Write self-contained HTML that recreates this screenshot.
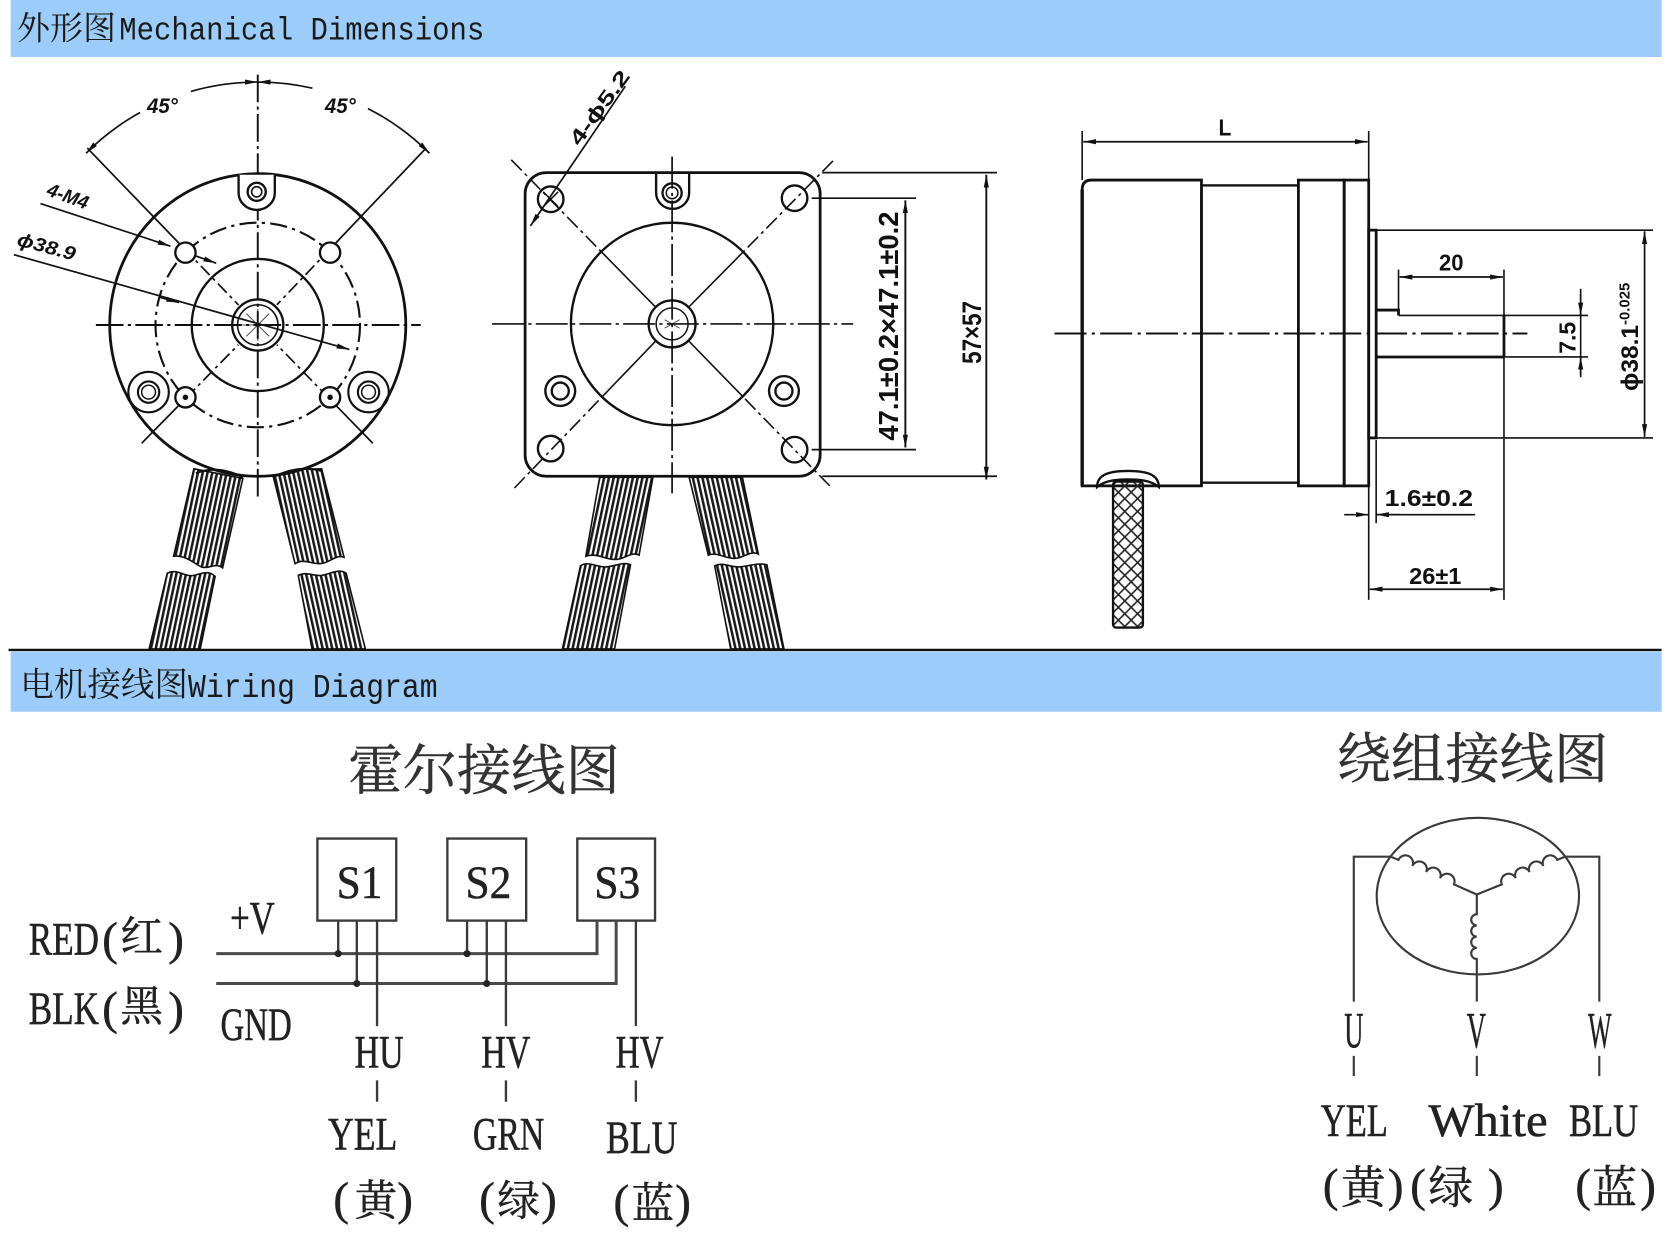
<!DOCTYPE html>
<html><head><meta charset="utf-8">
<style>
html,body{margin:0;padding:0;background:#fff;}
svg{display:block;}
</style></head>
<body>
<svg xmlns="http://www.w3.org/2000/svg" width="1668" height="1236" viewBox="0 0 1566 1160" preserveAspectRatio="none">
<defs>
 <marker id="ar" viewBox="0 0 12 6" refX="12" refY="3" markerWidth="12" markerHeight="6" orient="auto-start-reverse" markerUnits="userSpaceOnUse"><path d="M0,0.6 L12,3 L0,5.4z" fill="#111"/></marker>
 <pattern id="hL" width="4.4" height="20" patternUnits="userSpaceOnUse" patternTransform="rotate(12)"><rect width="2.4" height="20" fill="#1a1a1a"/></pattern>
 <pattern id="hR" width="4.4" height="20" patternUnits="userSpaceOnUse" patternTransform="rotate(-12.5)"><rect width="2.4" height="20" fill="#1a1a1a"/></pattern>
 <pattern id="xh" width="12" height="12" patternUnits="userSpaceOnUse"><path d="M0,0 L12,12 M12,0 L0,12" stroke="#222" stroke-width="1.5" fill="none"/></pattern>
</defs>
<rect x="0" y="0" width="1566" height="1160" fill="#fff"/>

<!-- Header 1 -->
<rect x="10" y="0" width="1550" height="53.5" fill="#9ccdfa"/>
<text x="16" y="37" font-family="'Noto Serif CJK SC','Noto Sans CJK SC',serif" font-size="31" fill="#1a1a1a">外形图</text>
<text transform="translate(112,37) scale(1,1.12)" font-family="'Liberation Mono',monospace" font-size="27.2" fill="#1a1a1a">Mechanical Dimensions</text>

<!-- Header 2 -->
<line x1="8" y1="610" x2="1560" y2="610" stroke="#111" stroke-width="2.2"/>
<rect x="10" y="611.5" width="1550" height="56.5" fill="#9ccdfa"/>
<text x="19" y="653" font-family="'Noto Serif CJK SC','Noto Sans CJK SC',serif" font-size="31.5" fill="#1a1a1a">电机接线图</text>
<text transform="translate(176.5,654) scale(1,1.12)" font-family="'Liberation Mono',monospace" font-size="27.9" fill="#1a1a1a">Wiring Diagram</text>

<!-- ============ LEFT VIEW ============ -->
<g stroke="#111" fill="none" stroke-width="2.2">
 <path d="M182,440 L228,449 L209,533 C201,527 195,536 187,531 C179,526 172,521 163,522 Z" fill="url(#hL)" stroke-width="1.5"/>
 <path d="M157,538 C166,533 174,542 182,540 C190,538 196,535 202,541 L188,609 L140,609 Z" fill="url(#hL)" stroke-width="1.5"/>
 <path d="M255,441 L302,440 L323,523 C315,520 309,529 300,529 C291,529 285,524 277,529 Z" fill="url(#hR)" stroke-width="1.5"/>
 <path d="M280,540 C288,536 294,541 302,540 C310,539 318,533 325,538 L343,609 L293,609 Z" fill="url(#hR)" stroke-width="1.5"/>

 <ellipse cx="242" cy="305" rx="139" ry="142" stroke-width="2.6" fill="#fff"/>
 <path d="M184,444 Q205,436 228,448 M256,448 Q280,436 302,442" stroke-width="2"/>
 <circle cx="242" cy="305" r="62"/>
 <circle cx="242" cy="305" r="96" stroke-dasharray="16 5 3 5" stroke-width="2"/>
 <circle cx="242" cy="305" r="24"/>
 <circle cx="242" cy="305" r="19" stroke-width="1.5"/>
 <path d="M242,290 V320 M227,305 H257 M231.4,294.4 L252.6,315.6 M252.6,294.4 L231.4,315.6" stroke-width="1" stroke="#555"/>
 <path d="M90,305 H395" stroke-dasharray="26 4 3 4" stroke-width="1.8"/>
 <path d="M242,70 V466" stroke-dasharray="26 4 3 4" stroke-width="1.8"/>
 <path d="M82,139 L172.6,233 M400,139 L311,232.5 M133,416 L174.8,373.4 M350,416 L308.9,373.8" stroke-width="1.6"/>
 <path d="M172.6,233 L224,286.3 M311,232.5 L260,286 M174.8,373.4 L223.8,323.5 M308.9,373.8 L260,323.6" stroke-width="1.6" stroke-dasharray="12 4 3 4"/>
 <circle cx="174.1" cy="237.1" r="9.5" fill="#fff"/>
 <circle cx="309.9" cy="237.1" r="9.5" fill="#fff"/>
 <circle cx="174.1" cy="372.9" r="9.5" fill="#fff"/>
 <circle cx="309.9" cy="372.9" r="9.5" fill="#fff"/>
 <circle cx="174.1" cy="372.9" r="1.5" fill="#111"/>
 <circle cx="309.9" cy="372.9" r="1.5" fill="#111"/>
 <path d="M224,164 V181 A17,16 0 0 0 258,181 V164" fill="#fff"/>
 <circle cx="241" cy="180" r="8.5"/>
 <circle cx="241" cy="180" r="4.8" stroke-width="1.5"/>
 <circle cx="139.5" cy="368" r="19" stroke-width="2"/>
 <circle cx="139.5" cy="368" r="10" stroke-width="2"/>
 <circle cx="139.5" cy="368" r="6.5" stroke-width="1.4"/>
 <circle cx="346" cy="368" r="19" stroke-width="2"/>
 <circle cx="346" cy="368" r="10" stroke-width="2"/>
 <circle cx="346" cy="368" r="6.5" stroke-width="1.4"/>
 <path d="M80.8,143.8 A228,228 0 0 1 131.5,105.6" stroke-width="1.6" marker-start="url(#ar)"/>
 <path d="M179.2,85.8 A228,228 0 0 1 242,77" stroke-width="1.6" marker-end="url(#ar)"/>
 <path d="M242,77 A228,228 0 0 1 293.3,82.8" stroke-width="1.6" marker-start="url(#ar)"/>
 <path d="M345.5,101.9 A228,228 0 0 1 403.2,143.8" stroke-width="1.6" marker-end="url(#ar)"/>
 <path d="M38,191 L160,231" stroke-width="1.6" marker-end="url(#ar)"/>
 <path d="M183,240 L203,247" stroke-width="1.6" marker-end="url(#ar)"/>
 <path d="M13,239 L328,328" stroke-width="1.6" marker-end="url(#ar)"/>
 <path d="M150,279 L168,284" stroke-width="1.6" marker-end="url(#ar)"/>
</g>
<g font-family="'Liberation Sans',sans-serif" font-weight="bold" font-style="italic" fill="#111">
 <text x="138" y="106" font-size="20" textLength="29" lengthAdjust="spacingAndGlyphs">45°</text>
 <text x="305" y="106" font-size="20" textLength="29" lengthAdjust="spacingAndGlyphs">45°</text>
 <text transform="translate(43,183) rotate(20)" font-size="18" textLength="40" lengthAdjust="spacingAndGlyphs">4-M4</text>
 <text transform="translate(15,230) rotate(15)" font-size="18" textLength="56" lengthAdjust="spacingAndGlyphs">ϕ38.9</text>
</g>

<!-- ============ MIDDLE VIEW ============ -->
<g stroke="#111" fill="none" stroke-width="2.2">
 <path d="M563,448 L613,448 L600,521 C592,517 586,526 576,525 C566,524 560,519 550,522 Z" fill="url(#hL)" stroke-width="1.5"/>
 <path d="M545,531 C553,526 561,533 570,532 C579,531 585,527 592,530 L577,609 L528,609 Z" fill="url(#hL)" stroke-width="1.5"/>
 <path d="M647,448 L697,448 L712,520 C704,516 697,525 688,524 C679,523 672,518 665,521 Z" fill="url(#hR)" stroke-width="1.5"/>
 <path d="M671,531 C679,527 686,533 695,532 C704,531 712,528 720,530 L736,609 L686,609 Z" fill="url(#hR)" stroke-width="1.5"/>

 <rect x="493" y="162" width="277" height="285" rx="20" stroke-width="2.6" fill="#fff"/>
 <circle cx="631" cy="304" r="95"/>
 <circle cx="631" cy="304" r="22"/>
 <circle cx="631" cy="304" r="15" stroke-width="1.4"/>
 <path d="M624,300 L638,308 M624,308 L638,300" stroke-width="1" stroke="#555"/>
 <path d="M462,304 H801" stroke-dasharray="30 4 3 4" stroke-width="1.6"/>
 <path d="M631,147 V463" stroke-dasharray="30 4 3 4" stroke-width="1.6"/>
 <path d="M480,150 L564.5,236.2 M782,151 L697.8,236.4 M483,458 L565.2,372.5 M779,456 L697.3,372.1" stroke-dasharray="14 4 3 4" stroke-width="1.5"/>
 <path d="M564.5,236.2 L615.6,288.3 M697.8,236.4 L646.5,288.3 M565.2,372.5 L615.8,319.9 M697.3,372.1 L646.4,319.8" stroke-width="1.5"/>
 <circle cx="517" cy="187" r="12"/>
 <path d="M510,180 L524,194 M524,180 L510,194" stroke-width="1.4"/>
 <circle cx="746" cy="186" r="12"/>
 <circle cx="517" cy="421" r="12"/>
 <circle cx="746" cy="422" r="12"/>
 <circle cx="526" cy="367" r="14"/>
 <circle cx="526" cy="367" r="8"/>
 <circle cx="736" cy="367" r="14"/>
 <circle cx="736" cy="367" r="8"/>
 <path d="M616,162 V181 A15.5,15 0 0 0 647,181 V162"/>
 <circle cx="631" cy="181" r="9"/>
 <circle cx="631" cy="181" r="5.5" stroke-width="1.4"/>
 <path d="M587,81 L498,212" stroke-width="1.6" marker-end="url(#ar)"/>
 <path d="M772,162 H936 M772,447 H936" stroke-width="1.6"/>
 <path d="M926,164 V450" stroke-width="1.8" marker-start="url(#ar)" marker-end="url(#ar)"/>
 <path d="M762,186 H860 M762,422 H860" stroke-width="1.6"/>
 <path d="M850,188 V420" stroke-width="1.8" marker-start="url(#ar)" marker-end="url(#ar)"/>
</g>
<g font-family="'Liberation Sans',sans-serif" font-weight="bold" fill="#111">
 <text transform="translate(544,138) rotate(-54)" font-size="19" textLength="82" lengthAdjust="spacingAndGlyphs">4-ϕ5.2</text>
 <text transform="translate(843,306) rotate(-90)" text-anchor="middle" font-size="26" textLength="215" lengthAdjust="spacingAndGlyphs">47.1±0.2×47.1±0.2</text>
 <text transform="translate(921,312) rotate(-90)" text-anchor="middle" font-size="25" textLength="59" lengthAdjust="spacingAndGlyphs">57×57</text>
</g>

<!-- ============ RIGHT VIEW ============ -->
<g stroke="#111" fill="none" stroke-width="2.2">
 <path d="M1016,178 Q1016,169 1025,169 H1128 V456 H1016 Z" stroke-width="2.6"/>
 <path d="M1016,178 V456" stroke-width="3.2"/>
 <rect x="1128" y="174" width="91" height="279"/>
 <rect x="1219" y="169" width="43" height="287" stroke-width="2.6"/>
 <rect x="1262" y="169" width="23" height="287" stroke-width="2.6"/>
 <rect x="1285" y="216" width="7" height="195" stroke-width="2.6"/>
 <path d="M1292,291 H1313 V296 M1412,296 V335 M1292,335 H1412" stroke-width="2.6"/>
 <path d="M1313,296 H1412" stroke-width="1.5"/>
 <path d="M990,313 H1434" stroke-dasharray="30 5 3 5" stroke-width="1.8"/>
 <path d="M1292,216 H1552 M1292,411 H1552" stroke-width="1.5"/>
 <path d="M1544,217 V410" stroke-width="1.6" marker-start="url(#ar)" marker-end="url(#ar)"/>
 <path d="M1412,296 H1491 M1412,335 H1491" stroke-width="1.5"/>
 <path d="M1484,271 V354" stroke-width="1.5"/>
 <path d="M1484,276 V296" stroke-width="1.5" marker-end="url(#ar)"/>
 <path d="M1484,352 V335" stroke-width="1.5" marker-end="url(#ar)"/>
 <path d="M1313,253 V291 M1412,253 V296" stroke-width="1.5"/>
 <path d="M1314,260 H1411" stroke-width="1.6" marker-start="url(#ar)" marker-end="url(#ar)"/>
 <path d="M1016,123 V169 M1285,123 V169" stroke-width="1.5"/>
 <path d="M1017,133 H1284" stroke-width="1.6" marker-start="url(#ar)" marker-end="url(#ar)"/>
 <path d="M1292,413 V491" stroke-width="1.5"/>
 <path d="M1292,483 H1385" stroke-width="1.5"/>
 <path d="M1262,483 L1285,483" stroke-width="1.5" marker-end="url(#ar)"/>
 <path d="M1315,483 L1292,483" stroke-width="1.5" marker-end="url(#ar)"/>
 <path d="M1285,411 V563 M1412,335 V563" stroke-width="1.5"/>
 <path d="M1286,553 H1411" stroke-width="1.6" marker-start="url(#ar)" marker-end="url(#ar)"/>
 <rect x="1045" y="452" width="28" height="137" rx="3" fill="url(#xh)" stroke-width="2.2"/>
 <path d="M1030,457 C1030,446 1040,442 1059,442 C1078,442 1088,446 1088,457 C1082,452 1074,450 1059,450 C1044,450 1036,452 1030,457 Z" fill="#fff" stroke-width="2.2"/>
</g>
<g font-family="'Liberation Sans',sans-serif" font-weight="bold" fill="#111">
 <text x="1144" y="127" font-size="22" textLength="12" lengthAdjust="spacingAndGlyphs">L</text>
 <text x="1351" y="254" font-size="22" textLength="23" lengthAdjust="spacingAndGlyphs">20</text>
 <text transform="translate(1479,317) rotate(-90)" text-anchor="middle" font-size="22" textLength="30" lengthAdjust="spacingAndGlyphs">7.5</text>
 <text transform="translate(1538,367) rotate(-90)" font-size="23">ϕ38.1<tspan font-size="14" dy="-8">-0.025</tspan></text>
 <text x="1300" y="475" font-size="22" textLength="83" lengthAdjust="spacingAndGlyphs">1.6±0.2</text>
 <text x="1323" y="548" font-size="22" textLength="49" lengthAdjust="spacingAndGlyphs">26±1</text>
</g>

<!-- ============ HALL WIRING ============ -->
<text x="327" y="741" font-family="'Noto Serif CJK SC','Noto Sans CJK SC',serif" font-size="51" fill="#333" stroke="#333" stroke-width="0.4">霍尔接线图</text>
<g stroke="#3a3a3a" fill="none" stroke-width="2.2">
 <rect x="298" y="787" width="74" height="77"/>
 <rect x="420" y="787" width="74" height="77"/>
 <rect x="542" y="787" width="73" height="77"/>
 <path d="M203,895 H560.5 V864" stroke-width="2.8" stroke="#4a4a4a"/>
 <path d="M203,923 H578.5 V864" stroke-width="2.8" stroke="#4a4a4a"/>
 <path d="M317.5,864 V895 M335,864 V923 M354,864 V963 M438.5,864 V895 M457,864 V923 M475,864 V963 M597,864 V963"/>
 <path d="M354,1014 V1034 M475,1014 V1034 M597,1014 V1034"/>
</g>
<g fill="#222">
 <circle cx="317.5" cy="895" r="3.3"/><circle cx="438.5" cy="895" r="3.3"/>
 <circle cx="335" cy="923" r="3.3"/><circle cx="457" cy="923" r="3.3"/>
</g>
<g font-family="'Liberation Serif',serif" fill="#222" stroke="#222" stroke-width="0.5" font-size="44">
 <text x="316" y="843" textLength="43" lengthAdjust="spacingAndGlyphs">S1</text>
 <text x="437" y="843" textLength="43" lengthAdjust="spacingAndGlyphs">S2</text>
 <text x="558" y="843" textLength="43" lengthAdjust="spacingAndGlyphs">S3</text>
 <text x="27" y="896" textLength="66" lengthAdjust="spacingAndGlyphs">RED</text>
 <text x="96" y="896">(</text><text x="158" y="896">)</text>
 <text x="27" y="961" textLength="66" lengthAdjust="spacingAndGlyphs">BLK</text>
 <text x="96" y="961">(</text><text x="158" y="961">)</text>
 <text x="216" y="876" textLength="42" lengthAdjust="spacingAndGlyphs">+V</text>
 <text x="207" y="976" textLength="67" lengthAdjust="spacingAndGlyphs">GND</text>
 <text x="333" y="1002" textLength="46" lengthAdjust="spacingAndGlyphs">HU</text>
 <text x="452" y="1002" textLength="46" lengthAdjust="spacingAndGlyphs">HV</text>
 <text x="578" y="1002" textLength="45" lengthAdjust="spacingAndGlyphs">HV</text>
 <text x="308" y="1079" textLength="65" lengthAdjust="spacingAndGlyphs">YEL</text>
 <text x="444" y="1079" textLength="67" lengthAdjust="spacingAndGlyphs">GRN</text>
 <text x="569" y="1082" textLength="67" lengthAdjust="spacingAndGlyphs">BLU</text>
 <text x="313" y="1140">(</text><text x="373" y="1140">)</text>
 <text x="450" y="1140">(</text><text x="508" y="1140">)</text>
 <text x="576" y="1142">(</text><text x="634" y="1142">)</text>
</g>
<g font-family="'Noto Serif CJK SC','Noto Sans CJK SC',serif" fill="#222" stroke="#222" stroke-width="0.4" font-size="40">
 <text x="113" y="893">红</text>
 <text x="113" y="958">黑</text>
 <text x="333" y="1141">黄</text>
 <text x="467" y="1141">绿</text>
 <text x="593" y="1143">蓝</text>
</g>

<!-- ============ WINDING WIRING ============ -->
<text x="1255" y="730" font-family="'Noto Serif CJK SC','Noto Sans CJK SC',serif" font-size="51" fill="#333" stroke="#333" stroke-width="0.4">绕组接线图</text>
<g stroke="#3a3a3a" fill="none" stroke-width="2">
 <ellipse cx="1387.5" cy="841" rx="95" ry="73.5"/>
 <path d="M1305.5,804 H1271 V940"/>
 <path d="M1469.5,804 H1501.5 V940"/>
 <path d="M1305.5,804 L1313,807 A7.1,7.1 0 0 1 1326,812.75 A7.1,7.1 0 0 1 1339,818.5 A7.1,7.1 0 0 1 1352,824.25 A7.1,7.1 0 0 1 1365,830 L1386.5,839.5"/>
 <path d="M1386.5,839.5 L1410,830 A7.1,7.1 0 0 1 1423,824.25 A7.1,7.1 0 0 1 1436,818.5 A7.1,7.1 0 0 1 1449,812.75 A7.1,7.1 0 0 1 1462,807 L1469.5,804"/>
 <path d="M1386.5,839.5 V858 A5.25,5.25 0 0 0 1386.5,868.5 A5.25,5.25 0 0 0 1386.5,879 A5.25,5.25 0 0 0 1386.5,889.5 A5.25,5.25 0 0 0 1386.5,900 V940"/>
 <path d="M1271,991 V1010 M1386.5,991 V1010 M1501.5,991 V1010"/>
</g>
<g font-family="'Liberation Serif',serif" fill="#222" stroke="#222" stroke-width="0.5" font-size="48">
 <text x="1262" y="983" textLength="18" lengthAdjust="spacingAndGlyphs">U</text>
 <text x="1377" y="983" textLength="18" lengthAdjust="spacingAndGlyphs">V</text>
 <text x="1491" y="983" textLength="22" lengthAdjust="spacingAndGlyphs">W</text>
</g>
<g font-family="'Liberation Serif',serif" fill="#222" stroke="#222" stroke-width="0.5" font-size="44">
 <text x="1240" y="1066" textLength="63" lengthAdjust="spacingAndGlyphs">YEL</text>
 <text x="1341" y="1066" textLength="112" lengthAdjust="spacingAndGlyphs">White</text>
 <text x="1473" y="1066" textLength="65" lengthAdjust="spacingAndGlyphs">BLU</text>
 <text x="1242" y="1127">(</text><text x="1303" y="1127">)</text>
 <text x="1324" y="1127">(</text><text x="1397" y="1127">)</text>
 <text x="1479" y="1127">(</text><text x="1540" y="1127">)</text>
</g>
<g font-family="'Noto Serif CJK SC','Noto Sans CJK SC',serif" fill="#222" stroke="#222" stroke-width="0.4" font-size="42">
 <text x="1259" y="1129">黄</text>
 <text x="1341" y="1129">绿</text>
 <text x="1495" y="1129">蓝</text>
</g>
</svg>
</body></html>
